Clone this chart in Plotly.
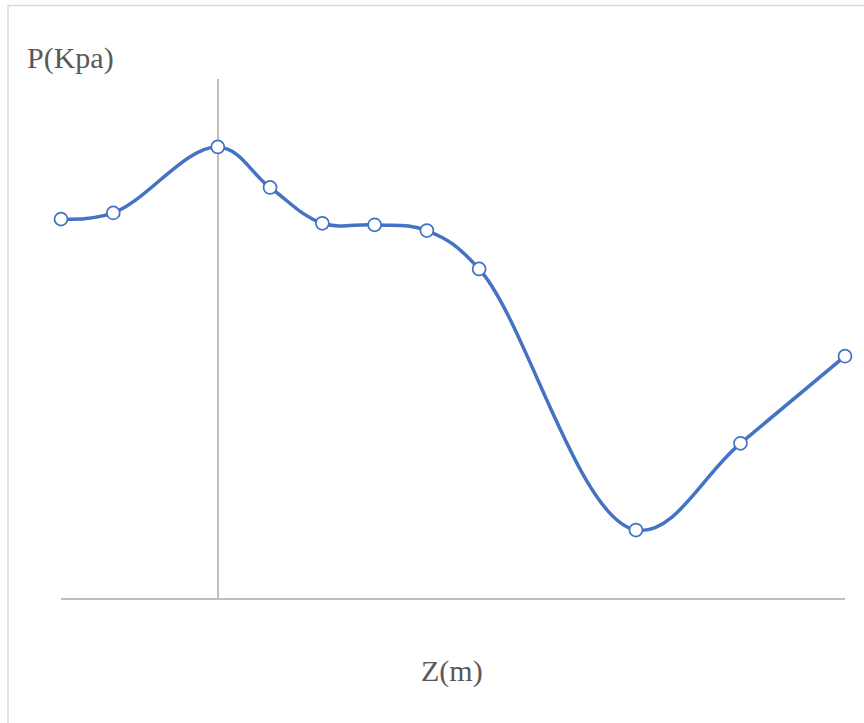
import plotly.graph_objects as go

# Depth positions Z (m) and pressure P (kPa)
z_m = [-3, -2, 0, 1, 2, 3, 4, 5, 8, 10, 12]
p_kpa = [73.0, 74.2, 86.9, 79.1, 72.2, 71.9, 70.8, 63.4, 13.1, 29.8, 46.6]

x_range = [-3, 12]
y_range = [0, 100]

W, H = 864, 723
L, R, T, B = 61, 19, 79, 125
plot_w = W - L - R
plot_h = H - T - B


def px_to_paper_x(px):
    return (px - L) / plot_w


def px_to_paper_y(py):
    return (H - B - py) / plot_h


blue = "#4472C4"
grey_axis = "#BFBFBF"
text_grey = "#595959"

fig = go.Figure()
fig.add_trace(go.Scatter(
    x=z_m,
    y=p_kpa,
    mode="lines+markers",
    line=dict(color=blue, width=3.5, shape="spline", smoothing=1.1),
    marker=dict(size=13, color="white", line=dict(color=blue, width=1.75)),
    cliponaxis=False,
    showlegend=False,
    hoverinfo="x+y",
))

fig.update_layout(
    width=W,
    height=H,
    margin=dict(l=L, r=R, t=T, b=B),
    paper_bgcolor="white",
    plot_bgcolor="white",
    font=dict(family="Liberation Serif, Times New Roman, serif", color=text_grey),
    xaxis=dict(
        range=x_range,
        showgrid=False,
        showticklabels=False,
        ticks="",
        showline=True,
        linecolor=grey_axis,
        linewidth=1.5,
        zeroline=True,
        zerolinecolor=grey_axis,
        zerolinewidth=1.5,
    ),
    yaxis=dict(
        range=y_range,
        showgrid=False,
        showticklabels=False,
        ticks="",
        showline=False,
        zeroline=False,
    ),
    shapes=[
        # chart frame
        dict(
            type="rect", xref="paper", yref="paper",
            x0=px_to_paper_x(8), x1=px_to_paper_x(W + 20),
            y0=px_to_paper_y(H + 20), y1=px_to_paper_y(5.5),
            line=dict(color="#D9D9D9", width=1.5),
            fillcolor="rgba(0,0,0,0)",
            layer="below",
        ),
    ],
    annotations=[
        dict(
            text="P(Kpa)", xref="paper", yref="paper",
            x=px_to_paper_x(25), y=px_to_paper_y(58),
            xanchor="left", yanchor="middle", showarrow=False,
            font=dict(size=30, color=text_grey),
        ),
        dict(
            text="Z(m)", xref="paper", yref="paper",
            x=px_to_paper_x(452), y=px_to_paper_y(671),
            xanchor="center", yanchor="middle", showarrow=False,
            font=dict(size=30, color=text_grey),
        ),
    ],
)

fig.write_html("out.html")
